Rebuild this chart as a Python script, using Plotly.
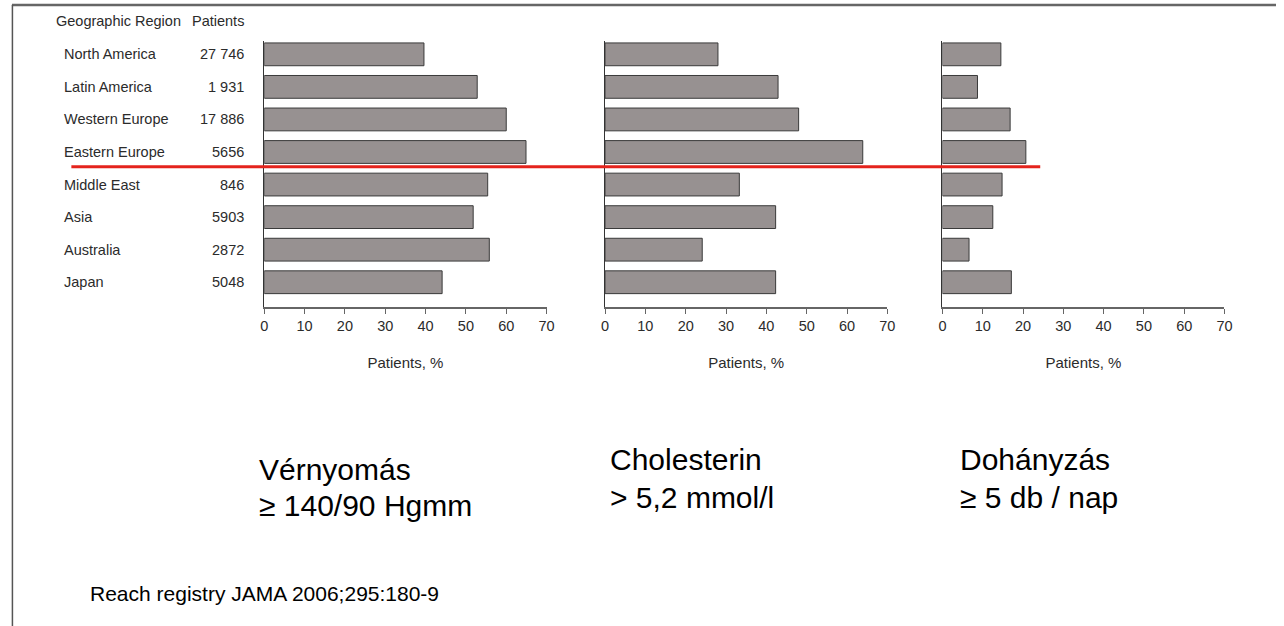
import plotly.graph_objects as go

# ---------------- data ----------------
regions = ["North America", "Latin America", "Western Europe", "Eastern Europe",
           "Middle East", "Asia", "Australia", "Japan"]
patients = ["27 746", "1 931", "17 886", "5656", "846", "5903", "2872", "5048"]
blood_pressure = [39.6, 52.8, 60.0, 64.9, 55.4, 51.8, 55.8, 44.1]
cholesterol = [28.0, 42.9, 48.0, 63.9, 33.3, 42.3, 24.1, 42.3]
smoking = [14.5, 8.7, 16.8, 20.7, 14.8, 12.5, 6.6, 17.1]
x_ticks = [0, 10, 20, 30, 40, 50, 60, 70]
panel_titles = [("Vérnyomás", "≥ 140/90 Hgmm"),
                ("Cholesterin", "> 5,2 mmol/l"),
                ("Dohányzás", "≥ 5 db / nap")]
header_region = "Geographic Region"
header_patients = "Patients"
source_text = "Reach registry JAMA 2006;295:180-9"
x_title = "Patients, %"

W, H = 1284, 626
SANS = "Liberation Sans, Arial, Helvetica, sans-serif"
TXT = "#2b2b2b"
LBL = 14.5

def px_x(p):
    return p / W

def px_y(p):
    return 1 - p / H

ypos = list(range(len(regions)))

fig = go.Figure()
series = [blood_pressure, cholesterol, smoking]
x_domains = [(262.7, 547.7), (606.7, 891.7), (947.3, 1232.0)]
y_dom = [px_y(307.3), px_y(41.3)]

for i, vals in enumerate(series):
    ax = "" if i == 0 else str(i + 1)
    fig.add_trace(go.Bar(
        x=vals, y=ypos, orientation="h", width=0.7,
        marker=dict(color="#979191", line=dict(color="#3a3a3a", width=1)),
        xaxis="x" + ax, yaxis="y" + ax, showlegend=False, hoverinfo="x",
    ))
    d0, d1 = x_domains[i]
    fig.layout["xaxis" + ax] = dict(
        domain=[px_x(d0), px_x(d1)], range=[0, 70], tickvals=x_ticks,
        ticks="outside", ticklen=5, tickcolor="#666", tickwidth=1,
        showline=True, linecolor="#666", linewidth=1.5,
        showgrid=False, zeroline=False, anchor="y" + ax,
        tickfont=dict(family=SANS, size=LBL, color=TXT),
        title=dict(text=x_title, font=dict(family=SANS, size=15, color=TXT), standoff=24),
        fixedrange=True,
    )
    fig.layout["yaxis" + ax] = dict(
        domain=y_dom, range=[7.77, -0.4], showticklabels=False,
        showline=True, linecolor="#333", linewidth=1, showgrid=False,
        zeroline=False, ticks="", anchor="x" + ax, fixedrange=True,
    )

annotations = []
# headers (paper coords, just above the plot area)
annotations.append(dict(x=px_x(50), y=px_y(21), xref="paper", yref="paper", text=header_region,
                        xanchor="left", yanchor="middle", showarrow=False,
                        font=dict(family=SANS, size=LBL, color=TXT)))
annotations.append(dict(x=px_x(244), y=px_y(21), xref="paper", yref="paper", text=header_patients,
                        xanchor="right", yanchor="middle", showarrow=False,
                        font=dict(family=SANS, size=LBL, color=TXT)))
for yi, (r, p) in enumerate(zip(regions, patients)):
    annotations.append(dict(x=px_x(59), y=yi, xref="paper", yref="y", text=r,
                            xanchor="left", yanchor="middle", showarrow=False,
                            font=dict(family=SANS, size=LBL, color=TXT)))
    annotations.append(dict(x=px_x(244), y=yi, xref="paper", yref="y", text=p,
                            xanchor="right", yanchor="middle", showarrow=False,
                            font=dict(family=SANS, size=LBL, color=TXT)))

# bottom texts
title_pos = [(255, 469, 506), (610, 459.5, 497.5), (963, 459.5, 497.5)]
for (l1, l2), (xx, y1, y2) in zip(panel_titles, title_pos):
    annotations.append(dict(x=px_x(xx), y=px_y(y1), xref="paper", yref="paper", text=l1,
                            xanchor="left", yanchor="middle", showarrow=False,
                            font=dict(family=SANS, size=30, color="#000")))
    annotations.append(dict(x=px_x(xx), y=px_y(y2), xref="paper", yref="paper", text=l2,
                            xanchor="left", yanchor="middle", showarrow=False,
                            font=dict(family=SANS, size=30, color="#000")))
annotations.append(dict(x=px_x(85), y=px_y(593.5), xref="paper", yref="paper", text=source_text,
                        xanchor="left", yanchor="middle", showarrow=False,
                        font=dict(family=SANS, size=21, color="#000")))

shapes = [
    # red separator line
    dict(type="line", xref="paper", yref="y", x0=px_x(68), x1=px_x(1046), y0=3.45, y1=3.45,
         line=dict(color="#e4231c", width=3)),
    # frame
    dict(type="line", xref="paper", yref="paper", x0=px_x(8), x1=1, y0=px_y(5), y1=px_y(5),
         line=dict(color="#666", width=2.5)),
    dict(type="line", xref="paper", yref="paper", x0=px_x(8.5), x1=px_x(8.5), y0=px_y(5), y1=0,
         line=dict(color="#555", width=1.5)),
]

fig.update_layout(
    width=W, height=H, margin=dict(l=0, r=0, t=0, b=0),
    paper_bgcolor="white", plot_bgcolor="white",
    annotations=annotations, shapes=shapes, bargap=0.3,
)

post = "document.body.style.margin='0';document.body.style.overflow='hidden';"

fig.write_html("out.html", config={"displayModeBar": False}, post_script=post)
